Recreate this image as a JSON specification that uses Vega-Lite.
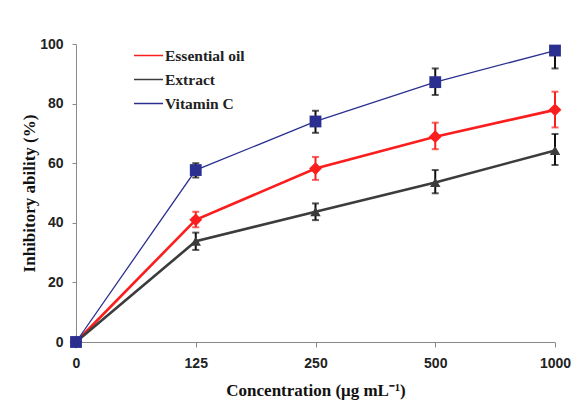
{
  "$schema": "https://vega.github.io/schema/vega-lite/v6.json",
  "width": 479,
  "height": 298,
  "autosize": {"type": "none"},
  "padding": {"left": 76, "top": 44, "right": 22, "bottom": 68},
  "background": "white",
  "config": {
    "view": {"stroke": null},
    "axis": {"grid": false, "domainColor": "#8a8a8a", "tickColor": "#8a8a8a", "labelFont": "Liberation Sans", "labelFontWeight": "bold", "labelFontSize": 14, "labelColor": "#222", "titleFont": "Liberation Serif", "titleFontWeight": "bold", "titleFontSize": 17, "titleColor": "#111"}
  },
  "data": {"values": [
    {"c": "0", "series": "Essential oil", "v": 0, "lo": null, "hi": null},
    {"c": "125", "series": "Essential oil", "v": 41, "lo": 38.5, "hi": 43.7},
    {"c": "250", "series": "Essential oil", "v": 58.2, "lo": 54.4, "hi": 62.1},
    {"c": "500", "series": "Essential oil", "v": 68.9, "lo": 64.7, "hi": 73.6},
    {"c": "1000", "series": "Essential oil", "v": 77.9, "lo": 72, "hi": 84},
    {"c": "0", "series": "Extract", "v": 0, "lo": null, "hi": null},
    {"c": "125", "series": "Extract", "v": 33.8, "lo": 30.9, "hi": 36.7},
    {"c": "250", "series": "Extract", "v": 43.7, "lo": 40.9, "hi": 46.5},
    {"c": "500", "series": "Extract", "v": 53.5, "lo": 49.9, "hi": 57.7},
    {"c": "1000", "series": "Extract", "v": 64.3, "lo": 59.4, "hi": 69.8},
    {"c": "0", "series": "Vitamin C", "v": 0, "lo": null, "hi": null},
    {"c": "125", "series": "Vitamin C", "v": 57.7, "lo": 55.2, "hi": 60},
    {"c": "250", "series": "Vitamin C", "v": 74, "lo": 70.2, "hi": 77.6},
    {"c": "500", "series": "Vitamin C", "v": 87.2, "lo": 82.9, "hi": 91.8},
    {"c": "1000", "series": "Vitamin C", "v": 97.8, "lo": 91.8, "hi": 97.8}
  ]},
  "encoding": {
    "x": {"field": "c", "type": "ordinal", "sort": ["0", "125", "250", "500", "1000"],
      "scale": {"type": "point", "padding": 0},
      "axis": {"title": "Concentration (μg mL⁻¹)", "labelAngle": 0, "tickSize": 5, "labelPadding": 9, "titlePadding": 12}}
  },
  "layer": [
    {
      "mark": {"type": "rule", "strokeWidth": 2},
      "encoding": {
        "y": {"field": "lo", "type": "quantitative"},
        "y2": {"field": "hi"},
        "color": {"condition": {"test": "datum.series === 'Essential oil'", "value": "#fb1e1e"}, "value": "#111111"}
      }
    },
    {
      "mark": {"type": "tick", "thickness": 2, "size": 7},
      "encoding": {
        "y": {"field": "lo", "type": "quantitative"},
        "color": {"condition": {"test": "datum.series === 'Essential oil'", "value": "#fb1e1e"}, "value": "#111111"}
      }
    },
    {
      "mark": {"type": "tick", "thickness": 2, "size": 7},
      "encoding": {
        "y": {"field": "hi", "type": "quantitative"},
        "color": {"condition": {"test": "datum.series === 'Essential oil'", "value": "#fb1e1e"}, "value": "#111111"}
      }
    },
    {
      "mark": {"type": "line"},
      "encoding": {
        "y": {"field": "v", "type": "quantitative"},
        "color": {"field": "series", "type": "nominal",
          "scale": {"domain": ["Essential oil", "Extract", "Vitamin C"], "range": ["#fb1e1e", "#3c3c3c", "#2b3090"]}},
        "strokeWidth": {"condition": {"test": "datum.series === 'Vitamin C'", "value": 1.3}, "value": 2.6}
      }
    },
    {
      "mark": {"type": "point", "filled": true, "opacity": 1},
      "encoding": {
        "y": {"field": "v", "type": "quantitative",
          "scale": {"domain": [0, 100]},
          "axis": {"title": "Inhibitory ability (%)", "values": [0, 20, 40, 60, 80, 100], "tickSize": 4, "labelPadding": 9, "titlePadding": 1}},
        "color": {"field": "series", "type": "nominal",
          "scale": {"domain": ["Essential oil", "Extract", "Vitamin C"], "range": ["#fb1e1e", "#3c3c3c", "#2b3090"]},
          "legend": {
            "title": null, "orient": "none", "legendX": 57, "legendY": -4, "padding": 0,
            "symbolSize": 841, "rowPadding": -5, "labelOffset": 1,
            "labelFont": "Liberation Serif", "labelFontWeight": "bold", "labelFontSize": 15.5, "labelColor": "#222"
          }},
        "shape": {"condition": [{"test": "datum.series === 'Essential oil'", "value": "diamond"}, {"test": "datum.series === 'Extract'", "value": "triangle-up"}], "value": "square"},
        "size": {"condition": [{"test": "datum.series === 'Essential oil'", "value": 165}, {"test": "datum.series === 'Extract'", "value": 110}], "value": 140}
      }
    }
  ]
}
